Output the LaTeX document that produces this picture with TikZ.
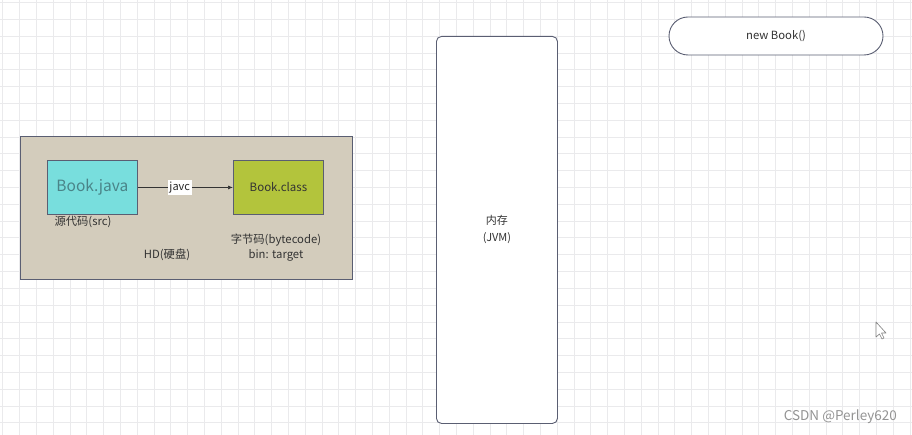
\documentclass[tikz,border=0pt]{standalone}
\usepackage{fontspec}
\setmainfont{Noto Sans CJK SC}
\usetikzlibrary{arrows.meta,shapes.misc}
\definecolor{gridc}{HTML}{EAEAEC}
\definecolor{hdfill}{HTML}{D3CCBC}
\definecolor{javafill}{HTML}{78DEDD}
\definecolor{classfill}{HTML}{B3C43C}
\definecolor{edgec}{HTML}{5A5E72}
\definecolor{txt}{HTML}{333333}
\definecolor{javatxt}{HTML}{4A8488}
\tikzset{
  every node/.style={text=txt, inner sep=1pt},
  filebox/.style={draw=edgec, line width=0.9pt, minimum width=90pt, minimum height=54pt},
  lbl/.style={font=\fontsize{11.3}{15}\selectfont},
}
\begin{document}
\begin{tikzpicture}[x=1pt,y=-1pt]
\useasboundingbox (0,0) rectangle (912,435);
\fill[white] (0,0) rectangle (912,435);
% grid
\foreach \i in {0,...,54} {
  \draw[gridc, line width=0.8pt] ({2.7+16.8*\i},0) -- ({2.7+16.8*\i},435);
}
\foreach \j in {0,...,25} {
  \draw[gridc, line width=0.8pt] (0,{2.7+16.8*\j}) -- (912,{2.7+16.8*\j});
}
% HD area
\node[draw=edgec, fill=hdfill, line width=0.9pt, minimum width=332pt, minimum height=143pt, anchor=north west] (hd) at (20,136) {};
\node[filebox, fill=javafill, anchor=north west, font=\fontsize{15.5}{18}\selectfont, text=javatxt] (java) at (47,160) {Book.java};
\node[filebox, fill=classfill, anchor=north west, font=\fontsize{11.5}{13}\selectfont] (class) at (233,160) {Book.class};
\draw[-{Latex[length=5pt,width=4pt]}, line width=0.7pt, black!80] (java) -- node[pos=0.44, fill=white, inner sep=1.5pt, font=\fontsize{11}{12}\selectfont, text=black!85] (javc) {javc} (class);
\node[lbl] (src) at (83,222) {源代码(src)};
\node[lbl, align=center] (bc) at (276,247.5) {字节码(bytecode)\\bin: target};
\node[lbl] (hdl) at (167,255) {HD(硬盘)};
% memory
\node[draw=edgec, fill=white, line width=0.9pt, rounded corners=5pt, minimum width=121pt, minimum height=387pt, anchor=north west, align=center, font=\fontsize{11}{17}\selectfont] (mem) at (436,36) {内存\\(JVM)};
% new Book()
\node[draw=edgec, fill=white, line width=0.9pt, rounded rectangle, minimum width=216pt, minimum height=38pt, font=\fontsize{11.3}{13}\selectfont] (nb) at (776,36) {new Book()};
% cursor
\draw[gray, fill=white, line width=0.6pt, line join=round] (876,322) -- (876,337) -- (879.5,334) -- (882,339) -- (884,338) -- (881.5,333) -- (886,333) -- cycle;
% watermark
\node[anchor=east, text=gray!85, font=\fontsize{13.5}{15}\selectfont] (wm) at (898,417) {CSDN @Perley620};
\end{tikzpicture}
\end{document}
